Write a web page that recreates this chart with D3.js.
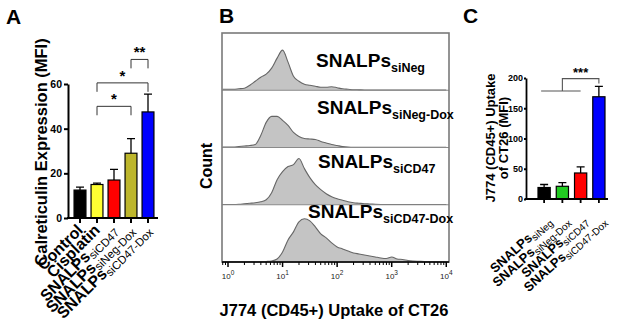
<!DOCTYPE html>
<html>
<head>
<meta charset="utf-8">
<script src="https://cdn.jsdelivr.net/npm/d3@7"></script>
<style>
  body { margin: 0; background: #fff; }
  text { font-family: "Liberation Sans", Arial, sans-serif; }
</style>
</head>
<body>
<div id="chart"></div>
<script>
// ---- panel A data ----
const namesA = ["Control", "Cisplatin", "SNALPs", "SNALPs", "SNALPs"];
const subsA = ["", "", "siCD47", "siNeg-Dox", "siCD47-Dox"];
const valuesA = [12.5, 15, 17, 29, 47.5];
const errorsA = [1.3, 0.6, 4.8, 6.5, 8];
const colorsA = ["#000000", "#ffff33", "#ff0000", "#bdb62c", "#0000ff"];
const ticksA = [0, 20, 40, 60];
const sigA = [
    { from: 1, to: 3, y: 50, tip: 46, label: "*" },
    { from: 1, to: 4, y: 60.5, tip: 56.5, label: "*" },
    { from: 3, to: 4, y: 71, tip: 67, label: "**" }
];

// ---- panel B data (histograms, count per log10 bin) ----
const logBins = [-0.1, 0, 0.1, 0.2, 0.3, 0.4, 0.5, 0.6, 0.7, 0.8, 0.9, 1.0, 1.1, 1.2, 1.3, 1.4, 1.5, 1.6, 1.7, 1.8, 1.9,
    2.0, 2.1, 2.2, 2.3, 2.4, 2.5, 2.6, 2.7, 2.8, 2.9, 3.0, 3.1, 3.2, 3.3, 3.4, 3.5, 3.6, 3.7, 3.8, 3.9, 4.0];
const subsB = ["siNeg", "siNeg-Dox", "siCD47", "siCD47-Dox"];
const countsSiNeg = [1, 1, 1, 1.5, 2, 5, 9, 13, 16, 22, 32, 40, 28, 14, 9, 6, 5, 4, 3, 3, 3.5,
    2.5, 1.5, 1, 0.5, 0.4, 0.3, 0.3, 0.3, 0.3, 0.3, 0.3, 0.3, 0.3, 0.3, 0.3, 0.3, 0.3, 0.3, 0.3, 0.3, 0.3];
const countsSiNegDox = [0.5, 0.5, 0.5, 1, 1.5, 2, 3, 12, 25, 31, 31, 27, 22, 15, 11, 9, 8.5, 8, 6, 4.5, 3,
    2, 1, 0.5, 0.3, 0.3, 0.2, 0.2, 0.2, 0.2, 0.2, 0.2, 0.2, 0.2, 0.2, 0.2, 0.2, 0.2, 0.2, 0.2, 0.2, 0.2];
const countsSiCD47 = [0.3, 0.3, 0.3, 0.5, 1, 1.5, 2, 3, 5, 12, 25, 33, 38, 40, 46, 36, 27, 20, 15, 11, 8,
    6, 4.5, 3, 2, 1.5, 1, 0.8, 0.5, 0.3, 0.2, 0.2, 0.2, 0.2, 0.2, 0.2, 0.2, 0.2, 0.2, 0.2, 0.2, 0.2];
const countsSiCD47Dox = [0.2, 0.2, 0.2, 0.2, 0.2, 0.2, 0.2, 0.2, 0.5, 1, 3, 10, 22, 30, 40, 43, 41, 35, 28, 24, 19,
    15, 13, 11, 9, 8, 7, 6, 5, 4, 3.5, 5, 3, 2.5, 1.5, 1, 0.7, 0.4, 0.2, 0.2, 0.2, 0.2];
const countsB = [countsSiNeg, countsSiNegDox, countsSiCD47, countsSiCD47Dox];
const decadesB = [0, 1, 2, 3, 4];

// ---- panel C data ----
const subsC = ["siNeg", "siNeg-Dox", "siCD47", "siCD47-Dox"];
const valuesC = [19, 21, 43, 169];
const errorsC = [5, 6, 10, 17];
const colorsC = ["#000000", "#22cc22", "#ff0000", "#0000ff"];
const ticksC = [0, 50, 100, 150, 200];

const width = 617, height = 322;
const svg = d3.select("#chart").append("svg")
    .attr("width", width)
    .attr("height", height);

function panelLetter(x, y, t) {
    svg.append("text").attr("x", x).attr("y", y)
        .style("font-size", "21px").style("font-weight", "bold").text(t);
}

// ================= Panel A =================
panelLetter(6, 24, "A");
const xA = d3.scaleBand().domain(d3.range(valuesA.length)).range([71.5, 156.5]).paddingInner(0.3).paddingOuter(0.15);
const yA = d3.scaleLinear().domain([0, 60]).range([218, 84]);
const gA = svg.append("g");

gA.selectAll("rect.bar").data(valuesA).enter().append("rect")
    .attr("x", (d, i) => xA(i))
    .attr("y", d => yA(d))
    .attr("width", xA.bandwidth())
    .attr("height", d => yA(0) - yA(d))
    .attr("fill", (d, i) => colorsA[i])
    .attr("stroke", "#000").attr("stroke-width", 1.2);

gA.selectAll("path.err").data(valuesA).enter().append("path")
    .attr("d", (d, i) => {
        const c = xA(i) + xA.bandwidth() / 2, top = yA(d + errorsA[i]);
        return `M${c},${yA(d)}V${top}M${c - 4},${top}H${c + 4}`;
    })
    .attr("stroke", "#000").attr("stroke-width", 1.3).attr("fill", "none");

// axes
const axA = gA.append("g").attr("transform", "translate(68,0)")
    .call(d3.axisLeft(yA).tickValues(ticksA).tickSize(4).tickPadding(2).tickSizeOuter(0));
axA.select(".domain").attr("stroke-width", 2);
axA.selectAll(".tick line").attr("stroke-width", 2);
axA.selectAll("text").style("font-size", "10.5px").style("font-weight", "bold")
    .style("font-family", "Liberation Sans, Arial, sans-serif");

gA.append("path").attr("d", `M67,218H158`).attr("stroke", "#000").attr("stroke-width", 2);
gA.selectAll("line.xt").data(valuesA).enter().append("line")
    .attr("x1", (d, i) => xA(i) + xA.bandwidth() / 2)
    .attr("x2", (d, i) => xA(i) + xA.bandwidth() / 2)
    .attr("y1", 218).attr("y2", 223)
    .attr("stroke", "#000").attr("stroke-width", 2);

const labA = gA.selectAll("text.xl").data(namesA).enter().append("text")
    .attr("transform", (d, i) => `translate(${xA(i) + xA.bandwidth() / 2 + 4},${231}) rotate(-45)`)
    .attr("text-anchor", "end");
labA.append("tspan").style("font-size", "16px").style("font-weight", "bold").text(d => d);
labA.append("tspan").attr("dy", 3).style("font-size", "11.5px").text((d, i) => subsA[i]);

gA.append("text")
    .attr("transform", `translate(47,152) rotate(-90)`)
    .attr("text-anchor", "middle")
    .style("font-size", "16.5px").style("font-weight", "bold")
    .text("Calreticulin Expression (MFI)");

sigA.forEach(s => {
    const x1 = xA(s.from) + xA.bandwidth() / 2, x2 = xA(s.to) + xA.bandwidth() / 2;
    gA.append("path")
        .attr("d", `M${x1},${yA(s.tip)}V${yA(s.y)}H${x2}V${yA(s.tip)}`)
        .attr("fill", "none").attr("stroke", "#333").attr("stroke-width", 1);
    gA.append("text").attr("x", (x1 + x2) / 2).attr("y", yA(s.y) - 2)
        .attr("text-anchor", "middle")
        .style("font-size", "15px").style("font-weight", "bold").text(s.label);
});

// ================= Panel B =================
panelLetter(219, 23, "B");
const xB = d3.scaleLog().domain([Math.pow(10, -0.11), Math.pow(10, 4.05)]).range([222, 449]);
const rowB = d3.scaleBand().domain(d3.range(countsB.length)).range([33, 262]);
const hB = d3.scaleLinear().domain([0, 57]).range([0, rowB.bandwidth()]);
const gB = svg.append("g");

countsB.forEach((counts, r) => {
    const base = rowB(r) + rowB.bandwidth();
    const area = d3.area()
        .x((d, i) => xB(Math.pow(10, logBins[i])))
        .y0(base)
        .y1(d => base - hB(d))
        .curve(d3.curveMonotoneX);
    const line = d3.line()
        .x((d, i) => xB(Math.pow(10, logBins[i])))
        .y(d => base - hB(d))
        .curve(d3.curveMonotoneX);
    gB.append("path").attr("d", area(counts)).attr("fill", "#c4c4c4");
    gB.append("path").attr("d", line(counts)).attr("fill", "none")
        .attr("stroke", "#666").attr("stroke-width", 1.1);
    if (r < countsB.length - 1) {
        gB.append("line").attr("x1", 222).attr("x2", 449).attr("y1", base).attr("y2", base)
            .attr("stroke", "#8a8a8a").attr("stroke-width", 1.2);
    }
});

// frame
gB.append("rect").attr("x", 222).attr("y", 33).attr("width", 227).attr("height", 229)
    .attr("fill", "none").attr("stroke", "#7a7a7a").attr("stroke-width", 1.6);

// row labels
const labPos = [[316, 67], [317, 114], [318, 168], [308, 218]];
subsB.forEach((s, r) => {
    const t = gB.append("text").attr("x", labPos[r][0]).attr("y", labPos[r][1]);
    t.append("tspan").style("font-size", "19px").style("font-weight", "bold").text("SNALPs");
    t.append("tspan").attr("dy", 5).style("font-size", "12.5px").style("font-weight", "bold").text(s);
});

// log axis
const axB = gB.append("g").attr("transform", "translate(0,262)");
axB.append("path").attr("d", "M222,0H449").attr("stroke", "#000").attr("stroke-width", 1.5);
const minorB = [];
[-1, 0, 1, 2, 3].forEach(k => d3.range(2, 10).forEach(m => {
    const v = m * Math.pow(10, k);
    if (v > xB.domain()[0] && v < xB.domain()[1]) minorB.push(v);
}));
axB.selectAll("line.mi").data(minorB).enter().append("line")
    .attr("x1", d => xB(d)).attr("x2", d => xB(d)).attr("y1", 0).attr("y2", 3)
    .attr("stroke", "#000").attr("stroke-width", 1);
axB.selectAll("line.ma").data(decadesB).enter().append("line")
    .attr("x1", d => xB(Math.pow(10, d))).attr("x2", d => xB(Math.pow(10, d))).attr("y1", 0).attr("y2", 5)
    .attr("stroke", "#000").attr("stroke-width", 1.5);
const tkB = axB.selectAll("text.tk").data(decadesB).enter().append("text")
    .attr("x", d => xB(Math.pow(10, d))).attr("y", 17)
    .attr("text-anchor", "middle").attr("fill", "#222");
tkB.append("tspan").style("font-size", "8px").text("10");
tkB.append("tspan").attr("dy", -4).style("font-size", "6.5px").text(d => d);

gB.append("text").attr("x", 334).attr("y", 316).attr("text-anchor", "middle")
    .style("font-size", "16.5px").style("font-weight", "bold")
    .text("J774 (CD45+) Uptake of CT26");
gB.append("text").attr("transform", "translate(212,166) rotate(-90)")
    .attr("text-anchor", "middle")
    .style("font-size", "16px").style("font-weight", "bold").text("Count");

// ================= Panel C =================
panelLetter(463, 23, "C");
const xC = d3.scaleBand().domain(d3.range(valuesC.length)).range([538, 605]).paddingInner(0.33);
const yC = d3.scaleLinear().domain([0, 200]).range([199, 78]);
const gC = svg.append("g");

gC.selectAll("rect.bar").data(valuesC).enter().append("rect")
    .attr("x", (d, i) => xC(i))
    .attr("y", d => yC(d))
    .attr("width", xC.bandwidth())
    .attr("height", d => yC(0) - yC(d))
    .attr("fill", (d, i) => colorsC[i])
    .attr("stroke", "#000").attr("stroke-width", 1.2);

gC.selectAll("path.err").data(valuesC).enter().append("path")
    .attr("d", (d, i) => {
        const c = xC(i) + xC.bandwidth() / 2, top = yC(d + errorsC[i]);
        return `M${c},${yC(d)}V${top}M${c - 4},${top}H${c + 4}`;
    })
    .attr("stroke", "#000").attr("stroke-width", 1.3).attr("fill", "none");

const axC = gC.append("g").attr("transform", "translate(526,0)")
    .call(d3.axisLeft(yC).tickValues(ticksC).tickSize(2).tickPadding(1).tickSizeOuter(0));
axC.select(".domain").attr("stroke-width", 1.8);
axC.selectAll(".tick line").attr("stroke-width", 1.8);
axC.selectAll("text").style("font-size", "9px").style("font-weight", "bold")
    .style("font-family", "Liberation Sans, Arial, sans-serif");

gC.append("path").attr("d", "M525,199H608").attr("stroke", "#000").attr("stroke-width", 1.8);
gC.selectAll("line.xt").data(valuesC).enter().append("line")
    .attr("x1", (d, i) => xC(i) + xC.bandwidth() / 2)
    .attr("x2", (d, i) => xC(i) + xC.bandwidth() / 2)
    .attr("y1", 199).attr("y2", 203)
    .attr("stroke", "#000").attr("stroke-width", 1.8);

const labC = gC.selectAll("text.xl").data(subsC).enter().append("text")
    .attr("transform", (d, i) => `translate(${xC(i) + xC.bandwidth() / 2 + 8},${222}) rotate(-42)`)
    .attr("text-anchor", "end");
labC.append("tspan").style("font-size", "13px").style("font-weight", "bold").text("SNALPs");
labC.append("tspan").attr("dy", 3).style("font-size", "10px").text(d => d);

gC.append("text").attr("transform", "translate(495,138) rotate(-90)")
    .attr("text-anchor", "middle")
    .style("font-size", "13px").style("font-weight", "bold").text("J774 (CD45+) Uptake");
gC.append("text").attr("transform", "translate(508,138) rotate(-90)")
    .attr("text-anchor", "middle")
    .style("font-size", "13px").style("font-weight", "bold").text("of CT26 (MFI)");

// significance bracket C
const c0 = xC(0) + xC.bandwidth() / 2, c1 = xC(1) + xC.bandwidth() / 2, c2 = xC(2) + xC.bandwidth() / 2, c3 = xC(3) + xC.bandwidth() / 2;
gC.append("path").attr("d", `M${c0 - 3},${yC(178.5)}H${c2}`)
    .attr("stroke", "#555").attr("fill", "none").attr("stroke-width", 1.1);
gC.append("path").attr("d", `M${c1},${yC(178.5)}V${yC(199)}H${c3}V${yC(191)}`)
    .attr("stroke", "#555").attr("fill", "none").attr("stroke-width", 1.1);
gC.append("text").attr("x", (c1 + c3) / 2).attr("y", yC(199) - 2).attr("text-anchor", "middle")
    .style("font-size", "13px").style("font-weight", "bold").text("***");
</script>
</body>
</html>
